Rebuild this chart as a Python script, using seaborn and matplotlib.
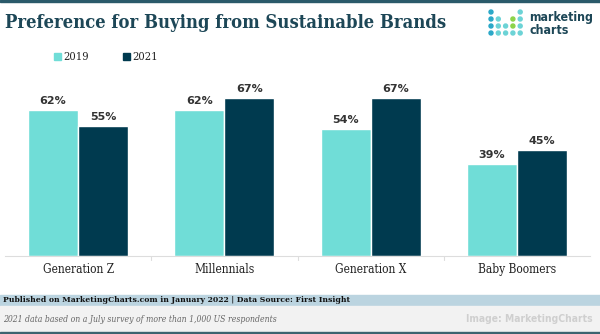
import matplotlib
matplotlib.use("Agg")
import matplotlib.pyplot as plt
import seaborn as sns
import pandas as pd
from matplotlib.patches import Rectangle, Ellipse

categories = ["Generation Z", "Millennials", "Generation X", "Baby Boomers"]
years = ["2019", "2021"]
values_2019 = [62, 62, 54, 39]
values_2021 = [55, 67, 67, 45]

df = pd.DataFrame({
    "cat": categories * 2,
    "year": [years[0]] * 4 + [years[1]] * 4,
    "val": values_2019 + values_2021,
})

sns.set_theme(style="white")
SERIF = ["DejaVu Serif"]
plt.rcParams["font.family"] = SERIF

C19 = "#70ddd7"
C21 = "#003a4f"
TITLE = "#1d4757"

fig = plt.figure(figsize=(6.0, 3.34), dpi=100)
W, H = 600, 334
def fx(x): return x / W
def fy(y): return 1 - y / H

ax = fig.add_axes([fx(5), fy(256), fx(590) - fx(5), (256 - 79.4) / H])
sns.barplot(data=df, x="cat", y="val", hue="year", palette=[C19, C21],
            width=0.685, ax=ax, legend=False, saturation=1)
ax.set_ylim(0, 75)
ax.set_xlim(-0.5, 3.5)
ax.set_xlabel("")
ax.set_ylabel("")
ax.set_yticks([])
for s in ["top", "right", "left"]:
    ax.spines[s].set_visible(False)
ax.spines["bottom"].set_color("#dddddd")
ax.spines["bottom"].set_linewidth(0.8)
ax.tick_params(axis="x", length=0, pad=5, labelsize=8.6, colors="#222222")
for lab in ax.get_xticklabels():
    lab.set_family(SERIF)
    lab.set_stretch("condensed")
for b in [0.5, 1.5, 2.5]:
    ax.plot([b, b], [0, -1.5], color="#dddddd", lw=0.8, clip_on=False)

for cont in ax.containers:
    ax.bar_label(cont, labels=[f"{int(v)}%" for v in cont.datavalues],
                 padding=3, fontsize=8, fontweight="bold", color="#333333",
                 family=["DejaVu Sans"])

# top line
fig.patches.append(Rectangle((0, fy(2)), 1, 2 / H, transform=fig.transFigure,
                             color="#2a5a6a", zorder=5))
# title
fig.text(fx(5), fy(23), "Preference for Buying from Sustainable Brands",
         fontsize=13.2, fontweight="bold", color=TITLE, va="center",
         family=SERIF, stretch="condensed")

# legend
for x0, col, lab in [(54, C19, years[0]), (123, C21, years[1])]:
    fig.patches.append(Rectangle((fx(x0), fy(60)), 6.5 / W, 6.5 / H,
                                 transform=fig.transFigure, color=col))
    fig.text(fx(x0 + 9), fy(56.5), lab, fontsize=8.0, color="#222222",
             va="center", family=SERIF, stretch="condensed")

# logo
B, T, G = "#2aa8c8", "#6cd3d6", "#8cd34a"
dot_cols = {
    (0, 0): B, (4, 0): T,
    (0, 1): B, (1, 1): T, (3, 1): G, (4, 1): T,
    (0, 2): B, (1, 2): T, (2, 2): T, (3, 2): G, (4, 2): T,
    (0, 3): B, (1, 3): T, (2, 3): T, (3, 3): T, (4, 3): T,
}
for (c, r), col in dot_cols.items():
    fig.patches.append(Ellipse((fx(491 + c * 7.3), fy(12 + r * 7.0)), 4.0 / W, 4.0 / H,
                               transform=fig.transFigure, color=col))
fig.text(fx(529), fy(17), "marketing", fontsize=8.9, fontweight="bold",
         color=TITLE, va="center", family=["DejaVu Sans"], stretch="condensed")
fig.text(fx(529), fy(31), "charts", fontsize=8.9, fontweight="bold",
         color=TITLE, va="center", family=["DejaVu Sans"], stretch="condensed")

# footer
fig.patches.append(Rectangle((0, fy(306)), 1, 11 / H, transform=fig.transFigure,
                             color="#bbd4e0"))
fig.patches.append(Rectangle((0, fy(332)), 1, 26 / H, transform=fig.transFigure,
                             color="#f2f2f2"))
fig.patches.append(Rectangle((0, 0), 1, 2.5 / H, transform=fig.transFigure,
                             color="#3d6470"))
fig.text(fx(3), fy(300.5), "Published on MarketingCharts.com in January 2022 | Data Source: First Insight",
         fontsize=6.1, fontweight="bold", color="#111111", va="center",
         family=SERIF, stretch="condensed")
fig.text(fx(3), fy(319), "2021 data based on a July survey of more than 1,000 US respondents",
         fontsize=6.2, style="italic", color="#666666", va="center",
         family=SERIF, stretch="condensed")
fig.text(fx(593), fy(319), "Image: MarketingCharts", fontsize=7.4, fontweight="bold",
         color="#cfcfcf", va="center", ha="right", family=["DejaVu Sans"],
         stretch="condensed")

fig.savefig("out.png", dpi=100)
